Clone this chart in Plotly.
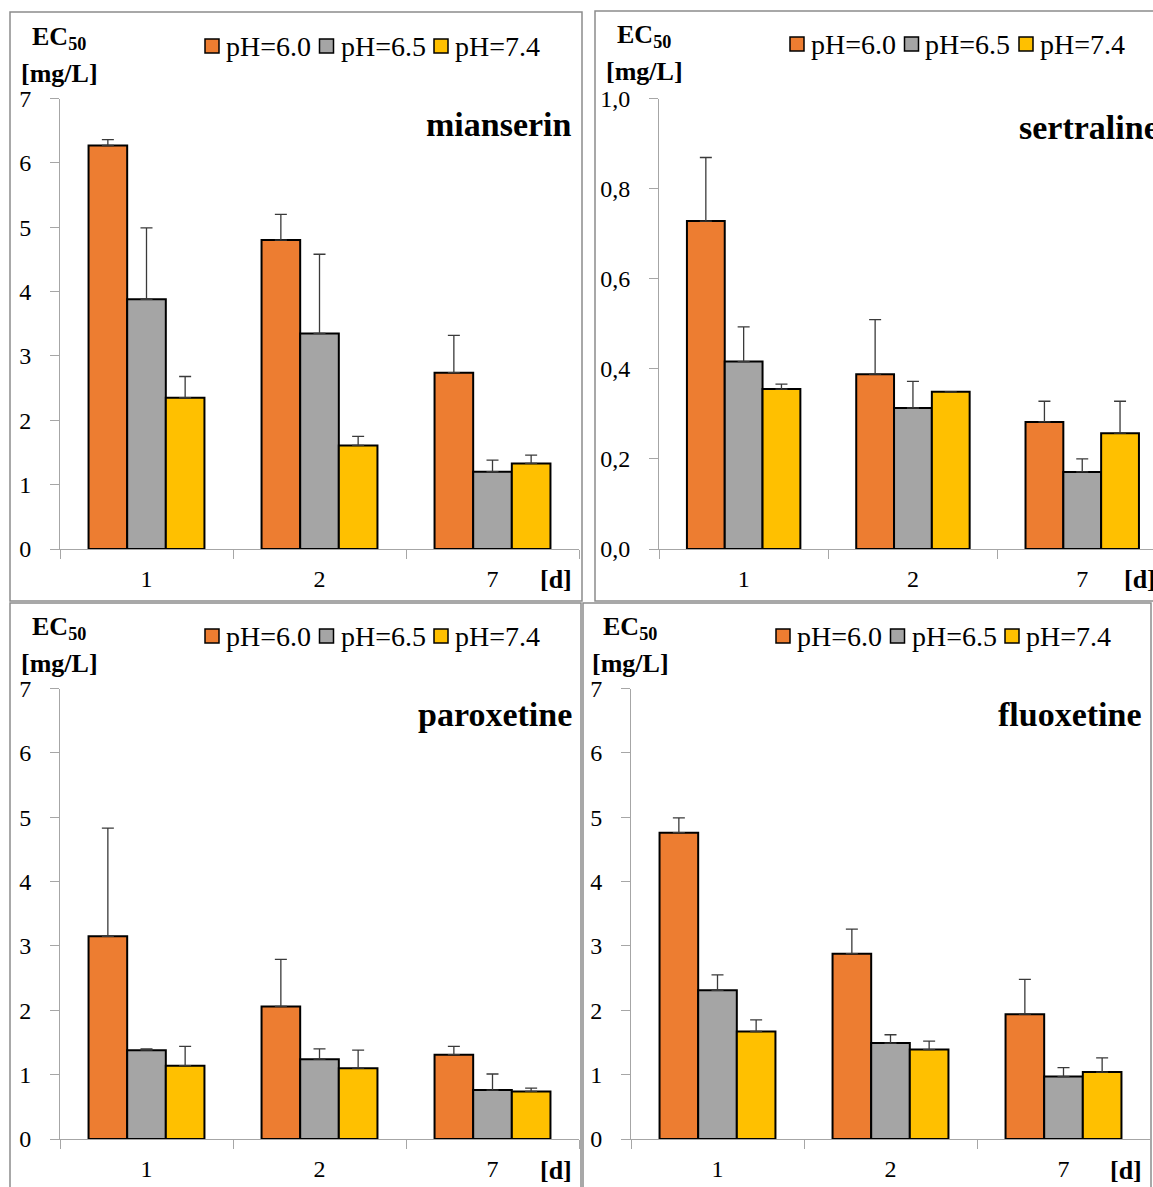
import plotly.graph_objects as go

# ---------------- data ----------------
days = ["1", "2", "7"]
ph_names = ["pH=6.0", "pH=6.5", "pH=7.4"]

mianserin_ph60 = [6.27, 4.80, 2.74]
mianserin_ph60_sd = [0.09, 0.40, 0.58]
mianserin_ph65 = [3.88, 3.35, 1.20]
mianserin_ph65_sd = [1.11, 1.23, 0.18]
mianserin_ph74 = [2.35, 1.61, 1.33]
mianserin_ph74_sd = [0.33, 0.14, 0.13]

sertraline_ph60 = [0.728, 0.388, 0.282]
sertraline_ph60_sd = [0.141, 0.121, 0.046]
sertraline_ph65 = [0.416, 0.313, 0.171]
sertraline_ph65_sd = [0.077, 0.059, 0.029]
sertraline_ph74 = [0.355, 0.349, 0.257]
sertraline_ph74_sd = [0.011, 0.0, 0.071]

paroxetine_ph60 = [3.15, 2.06, 1.31]
paroxetine_ph60_sd = [1.68, 0.73, 0.13]
paroxetine_ph65 = [1.38, 1.24, 0.76]
paroxetine_ph65_sd = [0.02, 0.16, 0.25]
paroxetine_ph74 = [1.14, 1.10, 0.74]
paroxetine_ph74_sd = [0.30, 0.28, 0.05]

fluoxetine_ph60 = [4.76, 2.88, 1.94]
fluoxetine_ph60_sd = [0.23, 0.38, 0.54]
fluoxetine_ph65 = [2.31, 1.49, 0.97]
fluoxetine_ph65_sd = [0.24, 0.13, 0.14]
fluoxetine_ph74 = [1.67, 1.39, 1.04]
fluoxetine_ph74_sd = [0.18, 0.13, 0.22]

int_ticks = [0, 1, 2, 3, 4, 5, 6, 7]
int_ticktext = ["0", "1", "2", "3", "4", "5", "6", "7"]
dec_ticks = [0.0, 0.2, 0.4, 0.6, 0.8, 1.0]
dec_ticktext = ["0,0", "0,2", "0,4", "0,6", "0,8", "1,0"]

colors = ["#ED7D31", "#A5A5A5", "#FFC000"]

# ---------------- geometry helpers ----------------
W, H = 1153, 1187
FONT = "Liberation Serif"


def fx(px):
    return px / W


def fy(py):
    return 1 - py / H


panels = [
    dict(title="mianserin", means=[mianserin_ph60, mianserin_ph65, mianserin_ph74],
         sds=[mianserin_ph60_sd, mianserin_ph65_sd, mianserin_ph74_sd],
         x0=60, x1=579, xr=[-0.5, 2.5], ytop=98.5, ybot=549, yr=[0, 7],
         tv=int_ticks, tt=int_ticktext,
         title_x=574, title_y=124, title_anchor="right",
         leg_x=205, leg_y=46, ec_x=59, ec_y=38, mg_y=73, d_x=556, d_y=580,
         box=(10, 582, 12, 601)),
    dict(title="sertraline", means=[sertraline_ph60, sertraline_ph65, sertraline_ph74],
         sds=[sertraline_ph60_sd, sertraline_ph65_sd, sertraline_ph74_sd],
         x0=659, x1=1153, xr=[-0.5, 2.418], ytop=98.5, ybot=549, yr=[0, 1.0],
         tv=dec_ticks, tt=dec_ticktext,
         title_x=1017, title_y=127, title_anchor="left",
         leg_x=790, leg_y=44, ec_x=644, ec_y=36, mg_y=71, d_x=1140, d_y=580,
         box=(595, 1170, 11, 601)),
    dict(title="paroxetine", means=[paroxetine_ph60, paroxetine_ph65, paroxetine_ph74],
         sds=[paroxetine_ph60_sd, paroxetine_ph65_sd, paroxetine_ph74_sd],
         x0=60, x1=579, xr=[-0.5, 2.5], ytop=688.5, ybot=1139, yr=[0, 7],
         tv=int_ticks, tt=int_ticktext,
         title_x=574, title_y=714, title_anchor="right",
         leg_x=205, leg_y=636, ec_x=59, ec_y=628, mg_y=663, d_x=556, d_y=1170,
         box=(10, 581, 603, 1200)),
    dict(title="fluoxetine", means=[fluoxetine_ph60, fluoxetine_ph65, fluoxetine_ph74],
         sds=[fluoxetine_ph60_sd, fluoxetine_ph65_sd, fluoxetine_ph74_sd],
         x0=631, x1=1150, xr=[-0.5, 2.5], ytop=688.5, ybot=1139, yr=[0, 7],
         tv=int_ticks, tt=int_ticktext,
         title_x=1144, title_y=714, title_anchor="right",
         leg_x=776, leg_y=636, ec_x=630, ec_y=628, mg_y=663, d_x=1126, d_y=1170,
         box=(583, 1151, 603, 1200)),
]

LEG_STEP = 114.5   # px between legend entries
LEG_BOX = 14       # legend swatch size, px
LEG_TEXT_DX = 19   # swatch left edge -> text start, px

fig = go.Figure()
layout = dict(
    width=W, height=H, margin=dict(l=0, r=0, t=0, b=0, autoexpand=False),
    paper_bgcolor="white", plot_bgcolor="white",
    barmode="group", bargap=0.33, bargroupgap=0.0,
    font=dict(family=FONT, color="black"), showlegend=False,
)
annotations = []
shapes = []

for i, p in enumerate(panels):
    n = "" if i == 0 else str(i + 1)
    xa, ya = "x" + n, "y" + n
    for k in range(3):
        fig.add_trace(go.Bar(
            x=days, y=p["means"][k], name=ph_names[k],
            marker=dict(color=colors[k], line=dict(color="black", width=2)),
            error_y=dict(type="data", symmetric=False, array=p["sds"][k],
                         arrayminus=[0, 0, 0], color="#3a3a3a", thickness=1.3, width=6),
            xaxis=xa, yaxis=ya, showlegend=False,
        ))
        # legend entry (swatch + label)
        lx = p["leg_x"] + k * LEG_STEP
        ly = p["leg_y"]
        shapes.append(dict(type="rect", xref="paper", yref="paper",
                           x0=fx(lx), x1=fx(lx + LEG_BOX),
                           y0=fy(ly + LEG_BOX / 2), y1=fy(ly - LEG_BOX / 2),
                           fillcolor=colors[k], line=dict(color="black", width=1.5)))
        annotations.append(dict(
            text=ph_names[k], xref="paper", yref="paper",
            x=fx(lx + LEG_TEXT_DX), y=fy(ly), xanchor="left", yanchor="middle",
            showarrow=False, font=dict(family=FONT, size=28, color="black"),
        ))
    layout["xaxis" + n] = dict(
        domain=[fx(p["x0"]), fx(p["x1"])], anchor=ya, type="category",
        range=p["xr"], showline=True, linecolor="#A6A6A6", linewidth=1,
        ticks="outside", ticklen=9, tickcolor="#A6A6A6", tickson="boundaries",
        tickfont=dict(family=FONT, size=24, color="black"), showgrid=False,
        ticklabelstandoff=8, fixedrange=True, automargin=False,
    )
    layout["yaxis" + n] = dict(
        domain=[fy(p["ybot"]), fy(p["ytop"])], anchor=xa, range=p["yr"],
        tickvals=p["tv"], ticktext=p["tt"], showline=True, linecolor="#A6A6A6",
        linewidth=1, ticks="outside", ticklen=9, tickcolor="#A6A6A6",
        tickfont=dict(family=FONT, size=24, color="black"), showgrid=False,
        zeroline=False, ticklabelstandoff=14, fixedrange=True, automargin=False,
    )
    annotations.append(dict(
        text="<b>" + p["title"] + "</b>", xref="paper", yref="paper",
        x=fx(p["title_x"]), y=fy(p["title_y"]), xanchor=p["title_anchor"],
        yanchor="middle", showarrow=False, font=dict(family=FONT, size=34, color="black"),
    ))
    annotations.append(dict(
        text="<b>EC<sub>50</sub></b>", xref="paper", yref="paper",
        x=fx(p["ec_x"]), y=fy(p["ec_y"]), xanchor="center", yanchor="middle",
        showarrow=False, font=dict(family=FONT, size=26, color="black"),
    ))
    annotations.append(dict(
        text="<b>[mg/L]</b>", xref="paper", yref="paper",
        x=fx(p["ec_x"]), y=fy(p["mg_y"]), xanchor="center", yanchor="middle",
        showarrow=False, font=dict(family=FONT, size=26, color="black"),
    ))
    annotations.append(dict(
        text="<b>[d]</b>", xref="paper", yref="paper",
        x=fx(p["d_x"]), y=fy(p["d_y"]), xanchor="center", yanchor="middle",
        showarrow=False, font=dict(family=FONT, size=26, color="black"),
    ))
    bx0, bx1, by0, by1 = p["box"]
    shapes.append(dict(type="rect", xref="paper", yref="paper",
                       x0=fx(bx0), x1=fx(bx1), y0=fy(by1), y1=fy(by0),
                       line=dict(color="#8C8C8C", width=1.5), fillcolor="rgba(0,0,0,0)",
                       layer="below"))

layout["annotations"] = annotations
layout["shapes"] = shapes
fig.update_layout(**layout)

fig.write_html("out.html", config={"displayModeBar": False},
               post_script="document.body.style.margin='0';document.body.style.overflow='hidden';")
